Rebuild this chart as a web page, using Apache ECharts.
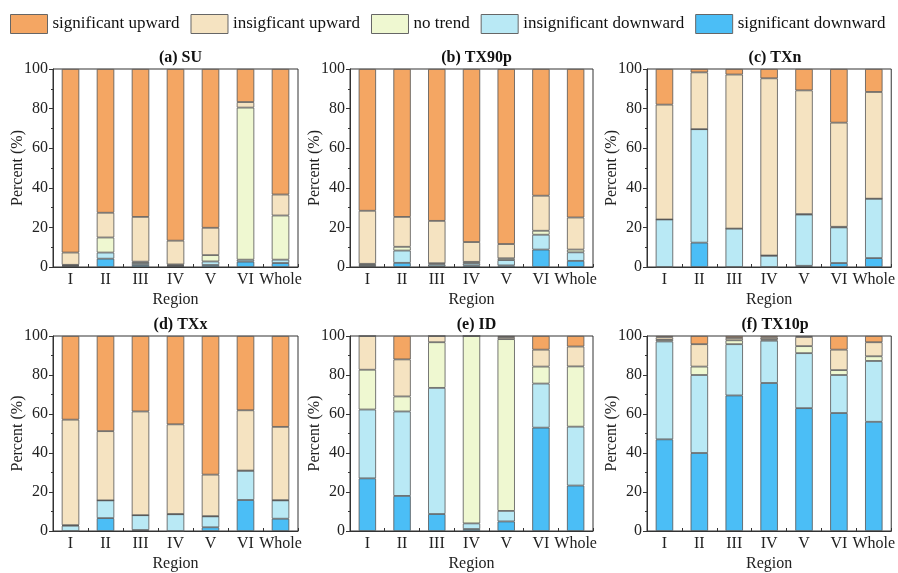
<!DOCTYPE html>
<html>
<head>
<meta charset="utf-8">
<script src="https://cdn.jsdelivr.net/npm/echarts@6/dist/echarts.min.js"></script>
<style>
html, body { margin: 0; padding: 0; background: #fff; }
#chart { width: 898px; height: 573px; }
</style>
</head>
<body>
<div id="chart"></div>
<script>
var regions = ['I', 'II', 'III', 'IV', 'V', 'VI', 'Whole'];
var classNames = ['significant downward', 'insignificant downward', 'no trend', 'insigficant upward', 'significant upward'];
var legendOrder = ['significant upward', 'insigficant upward', 'no trend', 'insignificant downward', 'significant downward'];
var panelTitles = ['(a) SU', '(b) TX90p', '(c) TXn', '(d) TXx', '(e) ID', '(f) TX10p'];
var yTicks = [0, 20, 40, 60, 80, 100];

// rows from bottom of the stack: sig down, insig down, no trend, insig up, sig up
var SU = [
	[0.5, 4.2, 1, 0.5, 1, 2.7, 2],
	[0.3, 3.1, 1, 0.3, 1.8, 1, 1.7],
	[0.3, 7.6, 0.7, 0.5, 3.2, 76.8, 22.3],
	[6.2, 12.5, 22.6, 12, 13.8, 2.8, 10.6],
	[92.7, 72.6, 74.7, 86.7, 80.2, 16.7, 63.4]
];
var TX90p = [
	[0.3, 2.1, 0.3, 0.8, 0.8, 8.8, 3.1],
	[0.7, 6.2, 1, 1.1, 2.7, 7.5, 4.3],
	[0.6, 1.9, 0.6, 0.7, 0.9, 2, 1.4],
	[26.8, 15.1, 21.4, 10, 7.2, 17.7, 16.2],
	[71.6, 74.7, 76.7, 87.4, 88.4, 64, 75]
];
var TXn = [
	[0, 12.3, 0, 0, 0.6, 2, 4.5],
	[24, 57.3, 19.4, 5.7, 25.9, 18, 30],
	[0, 0, 0, 0.1, 0.2, 0.3, 0],
	[58, 28.7, 77.8, 89.5, 62.5, 52.6, 53.9],
	[18, 1.7, 2.8, 4.7, 10.8, 27.1, 11.6]
];
var TXx = [
	[0, 6.6, 0.5, 0, 1.9, 15.9, 6.3],
	[2.7, 9.1, 7.6, 8.6, 5.6, 15, 9.4],
	[0.3, 0, 0, 0.1, 0.1, 0.1, 0.1],
	[54.1, 35.5, 53.2, 46, 21.3, 30.9, 37.6],
	[42.9, 48.8, 38.7, 45.3, 71.1, 38.1, 46.6]
];
var ID = [
	[27, 18, 8.7, 1, 4.9, 53, 23.3],
	[35.3, 43.3, 64.7, 2.9, 5.4, 22.6, 30.2],
	[20.4, 7.7, 23.4, 96.1, 88.1, 8.7, 30.9],
	[17.3, 19, 3.2, 0, 1, 8.7, 10.2],
	[0, 12, 0, 0, 0.6, 7, 5.4]
];
var TX10p = [
	[47, 40, 69.5, 75.9, 63, 60.5, 56],
	[50.2, 40, 26.3, 21.7, 28.2, 19.5, 31.2],
	[0.8, 4.3, 2, 0.7, 3.6, 2.5, 2.4],
	[1.3, 11.5, 1.2, 0.9, 4.7, 10.5, 7.2],
	[0.7, 4.2, 1, 0.8, 0.5, 7, 3.2]
];
var panels = [SU, TX90p, TXn, TXx, ID, TX10p];

var colors = ['#4BBEF6', '#B9E9F5', '#EFF8D1', '#F5E3C1', '#F4A663'];
var FONT = '"Liberation Serif", "Times New Roman", serif';

// grid boxes (px)
var cols = [{ left: 53, width: 245 }, { left: 350, width: 243 }, { left: 647, width: 246 }];
var rows = [{ top: 69, height: 198 }, { top: 336, height: 197 }];

var grids = [], xAxes = [], yAxes = [], titles = [], series = [];
for (var p = 0; p < panels.length; p++) {
	var c = cols[p % 3], r = rows[Math.floor(p / 3)];
	grids.push({
		left: c.left, top: r.top, width: c.width, height: r.height,
		show: true, borderColor: '#333', borderWidth: 1, backgroundColor: 'transparent'
	});
	titles.push({
		text: panelTitles[p],
		left: c.left + c.width / 2, top: r.top - 24, textAlign: 'center',
		textStyle: { fontFamily: FONT, fontSize: 16, fontWeight: 'bold', color: '#111' }
	});
	xAxes.push({
		type: 'category', gridIndex: p, data: regions,
		name: 'Region', nameLocation: 'middle', nameGap: 25,
		nameTextStyle: { fontFamily: FONT, fontSize: 16, color: '#222' },
		axisLine: { lineStyle: { color: '#333', width: 1 } },
		axisTick: { show: true, inside: true, length: 3, alignWithLabel: false, lineStyle: { color: '#333' } },
		axisLabel: { fontFamily: FONT, fontSize: 16, color: '#222', margin: 5, interval: 0 },
		splitLine: { show: false }
	});
	yAxes.push({
		type: 'value', gridIndex: p, min: yTicks[0], max: yTicks[yTicks.length - 1], interval: 20,
		name: 'Percent (%)', nameLocation: 'middle', nameGap: 27, nameMoveOverlap: false,
		nameTextStyle: { fontFamily: FONT, fontSize: 16, color: '#222' },
		axisLine: { show: true, lineStyle: { color: '#333', width: 1 } },
		axisTick: { show: true, inside: false, length: 4, lineStyle: { color: '#333' } },
		minorTick: { show: true, splitNumber: 2, length: 2, lineStyle: { color: '#333' } },
		axisLabel: { fontFamily: FONT, fontSize: 16, color: '#222', margin: 5 },
		splitLine: { show: false }
	});
	for (var k = 0; k < classNames.length; k++) {
		series.push({
			name: classNames[k],
			type: 'bar',
			stack: 'p' + p,
			xAxisIndex: p, yAxisIndex: p,
			barWidth: '50%',
			data: panels[p][k],
			itemStyle: { color: colors[k], borderColor: '#555', borderWidth: 0.8 },
			emphasis: { disabled: true }
		});
	}
}

var myChart = echarts.init(document.getElementById('chart'));
myChart.setOption({
	animation: false,
	title: titles,
	legend: {
		data: legendOrder,
		left: 10, top: 14, width: 895, padding: 0,
		icon: 'rect',
		itemWidth: 37, itemHeight: 19, itemGap: 11,
		textStyle: { fontFamily: FONT, fontSize: 17, color: '#111' },
		itemStyle: { borderColor: '#666', borderWidth: 1 }
	},
	grid: grids,
	xAxis: xAxes,
	yAxis: yAxes,
	series: series
});
</script>
</body>
</html>
